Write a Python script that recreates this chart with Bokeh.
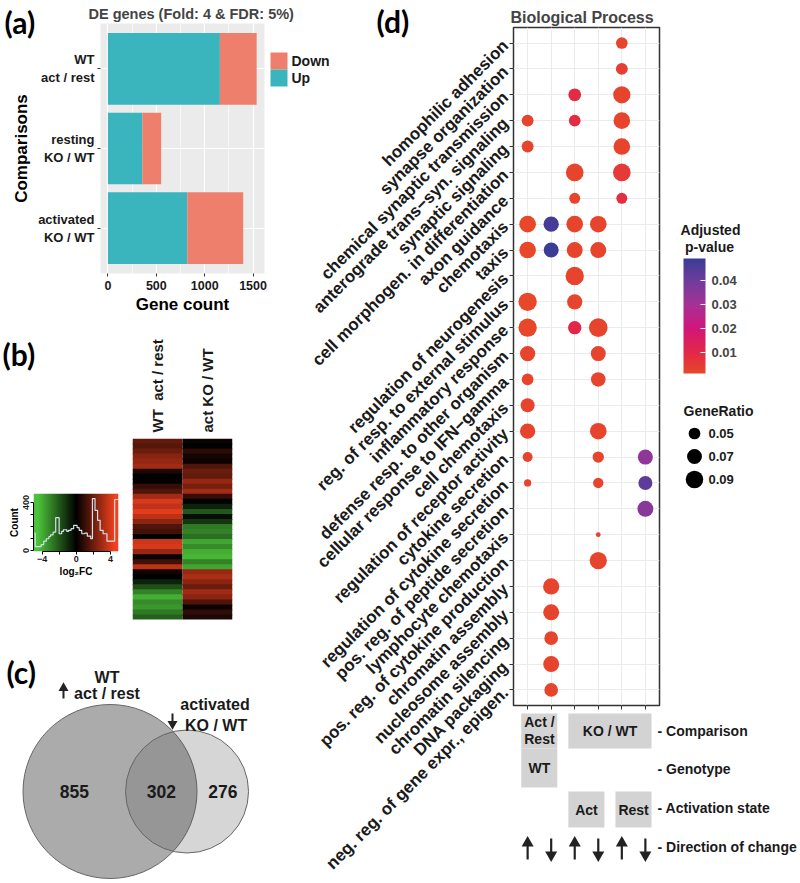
import numpy as np
from math import pi
from bokeh.plotting import figure
from bokeh.models import (ColumnDataSource, FactorRange, Range1d, FixedTicker,
                          LinearColorMapper, ColorBar)
from bokeh.core.properties import value
from bokeh.embed import file_html
from bokeh.resources import INLINE

# ============================ DATA ============================
# (a) DE genes (Fold: 4 & FDR: 5%)
comparisons = ["WT\nact / rest", "resting\nKO / WT", "activated\nKO / WT"]
up_counts = [1157, 355, 820]
down_counts = [380, 195, 578]
gene_count_ticks = [0, 500, 1000, 1500]
gene_count_minor = [250, 750, 1250]
direction_labels = ["Down", "Up"]

# (b) heatmap of log2FC (rows top -> bottom) and colour-key histogram
heat_columns = ["WT\u00a0 act / rest", "act KO / WT"]
heat_wt_act_rest = [1.8, 1.6, 2.0, 2.5, 2.8, 3.0, 0.5, 0.0, 0.1, 1.0, 1.5, 3.0,
                    4.0, 3.6, 4.2, 3.5, 2.6, 1.5, 1.2, 0.0, 3.8, 4.0, 2.8, 0.2,
                    1.2, 3.5, 0.3, 0.0, -0.8, -1.8, -3.0, -4.0, -3.2, -3.5, -2.8, -2.2]
heat_act_ko_wt = [0.2, 0.0, 0.8, 0.4, 0.2, 1.5, 2.0, 1.8, 2.8, 2.2, 3.0, 1.0,
                  0.0, -0.8, -2.0, -0.3, -1.2, -2.8, -3.0, -2.5, -3.8, -3.2, -4.0, -4.2,
                  -3.0, -3.8, 2.8, 3.2, 2.6, 2.0, 3.0, 2.6, 1.5, 0.2, 0.9, 0.5]
key_log2fc = [-4.9, -4.8, -4.1, -3.8, -3.5, -3.2, -3.0, -2.7, -2.4, -2.0, -1.7, -1.5,
              -1.1, -0.9, -0.6, -0.3, 0.1, 0.35, 0.65, 1.0, 1.3, 1.7, 1.9, 2.2, 2.5,
              2.8, 3.15, 3.6, 4.5, 4.9]
key_count = [145, 33, 50, 78, 98, 117, 131, 154, 274, 140, 159, 173, 159, 168, 182,
             210, 190, 168, 140, 145, 120, 98, 433, 335, 252, 168, 140, 78, 425, 425]
key_ticks = [-4, -2, 0, 2, 4]
key_count_ticks = [0, 100, 200, 300, 400]

# (c) Venn: up in WT act/rest vs down in activated KO/WT
venn_wt_only = 855
venn_shared = 302
venn_ko_only = 276

# (d) GO Biological Process dot plot
bp_terms = ["homophilic adhesion", "synapse organization", "chemical synaptic transmission",
            "anterograde trans\u2212syn. signaling", "synaptic signaling",
            "cell morphogen. in differentiation", "axon guidance", "chemotaxis", "taxis",
            "regulation of neurogenesis", "reg. of resp. to external stimulus",
            "inflammatory response", "defense resp. to other organism",
            "cellular response to IFN\u2212gamma", "cell chemotaxis",
            "regulation of receptor activity", "cytokine secretion",
            "regulation of cytokine secretion", "pos. reg. of peptide secretion",
            "lymphocyte chemotaxis", "pos. reg. of cytokine production", "chromatin assembly",
            "nucleosome assembly", "chromatin silencing", "DNA packaging",
            "neg. reg. of gene expr., epigen."]
bp_columns = ["WT act/rest up", "WT act/rest down", "act KO/WT up", "act KO/WT down",
              "rest KO/WT up", "rest KO/WT down"]
dot_term = [0, 1, 2, 2, 3, 3, 3, 4, 4, 5, 5, 6, 6, 7, 7, 7, 7, 8, 8, 8, 8, 9, 10, 10,
            11, 11, 11, 12, 12, 13, 13, 14, 15, 15, 16, 16, 16, 17, 17, 17, 18, 19, 20,
            21, 22, 23, 24, 25]
dot_col = [4, 4, 2, 4, 0, 2, 4, 0, 4, 2, 4, 2, 4, 0, 1, 2, 3, 0, 1, 2, 3, 2, 0, 2,
           0, 2, 3, 0, 3, 0, 3, 0, 0, 3, 0, 3, 5, 0, 3, 5, 5, 3, 3,
           1, 1, 1, 1, 1]
dot_ratio = [0.050, 0.051, 0.056, 0.088, 0.051, 0.050, 0.083, 0.051, 0.083, 0.091, 0.091,
             0.046, 0.046, 0.083, 0.073, 0.083, 0.083, 0.083, 0.071, 0.078, 0.078, 0.097,
             0.097, 0.073, 0.097, 0.060, 0.100, 0.073, 0.071, 0.050, 0.068, 0.064, 0.073,
             0.083, 0.041, 0.048, 0.071, 0.030, 0.043, 0.064, 0.078, 0.023, 0.088,
             0.080, 0.078, 0.062, 0.078, 0.062]
dot_padj = [0.002, 0.004, 0.009, 0.002, 0.002, 0.009, 0.002, 0.002, 0.002, 0.002, 0.005,
            0.002, 0.008, 0.0012, 0.047, 0.002, 0.002, 0.0012, 0.049, 0.002, 0.002, 0.002,
            0.0012, 0.002, 0.0012, 0.010, 0.002, 0.002, 0.002, 0.002, 0.002, 0.002, 0.002,
            0.002, 0.002, 0.002, 0.034, 0.002, 0.002, 0.043, 0.035, 0.003, 0.002,
            0.002, 0.002, 0.002, 0.002, 0.002]
gene_ratio_legend = [0.05, 0.07, 0.09]
padj_ticks = [0.01, 0.02, 0.03, 0.04]

# schematic under (d)
comparison_groups = [("Act /\nRest", 0, 1), ("KO / WT", 2, 5)]
genotype_groups = [("WT", 0, 1)]
activation_groups = [("Act", 2, 3), ("Rest", 4, 5)]
direction_of_change = ["up", "down", "up", "down", "up", "down"]
schem_row_labels = ["- Comparison", "- Genotype", "- Activation state", "- Direction of change"]

# ============================ STYLE ============================
W, H = 800, 882          # every layer covers the whole window and is stacked at (0, 0)
FONT = "Liberation Sans"
TAG_FONT = "Lato"
TEAL = "#3AB5BE"
SALMON = "#EE7F6D"
INK = "#1A1A1A"


def hex_rgb(h):
    return tuple(int(h[i:i + 2], 16) for i in (1, 3, 5))


def ramp(stops, n=256):
    pos = [s[0] for s in stops]
    cols = [hex_rgb(s[1]) for s in stops]
    out = []
    for t in np.linspace(0, 1, n):
        rgb = [int(round(np.interp(t, pos, [c[k] for c in cols]))) for k in range(3)]
        out.append("#%02x%02x%02x" % tuple(rgb))
    return out


heat_mapper = LinearColorMapper(palette=ramp([(0, "#4CC23A"), (0.5, "#000000"), (1, "#F0401E")]),
                                low=-4.5, high=4.5)
p_mapper = LinearColorMapper(
    palette=ramp([(0.0, "#E8472A"), (0.184, "#E22848"), (0.393, "#D2167A"),
                  (0.602, "#A53296"), (0.812, "#6E3C9B"), (1.0, "#3A3C96")]),
    low=min(dot_padj), high=max(dot_padj))


def ratio_px(r):
    return np.sqrt(np.maximum(4225.0 * np.asarray(r, dtype=float) - 74.0, 4.0))


def layer(frame=None, **kw):
    if frame is not None:
        l, r, t, b = frame
        kw.update(min_border_left=l, min_border_right=W - r, min_border_top=t, min_border_bottom=H - b)
    f = figure(width=W, height=H, output_backend="svg", toolbar_location=None,
               styles={"position": "absolute", "left": "0px", "top": "0px"}, **kw)
    f.border_fill_color = None
    f.outline_line_color = None
    return f


def style_axis(ax, size, tick_out=3, standoff=3, label_size="17px", line=None):
    ax.axis_line_color = line
    ax.major_tick_line_color = "#333333" if line is None else line
    ax.major_tick_out = tick_out
    ax.major_tick_in = 0
    ax.minor_tick_line_color = None
    ax.major_label_text_font = FONT
    ax.major_label_text_font_style = "bold"
    ax.major_label_text_font_size = size
    ax.major_label_text_color = INK
    ax.major_label_standoff = standoff
    ax.axis_label_text_font = FONT
    ax.axis_label_text_font_style = "bold"
    ax.axis_label_text_font_size = label_size
    ax.axis_label_text_color = "black"


def btext(fig, x, y, text, size, align="center", baseline="middle", color=INK, font=FONT):
    fig.text(x=x, y=y, text=text, text_font=value(font), text_font_style="bold",
             text_font_size=size, text_align=align, text_baseline=baseline, text_color=color)


def arrows(fig, xs, dirs, top, bottom, head=12, width=2.2):
    for x, d in zip(xs, dirs):
        if d == "up":
            fig.segment(x0=[x], y0=[top + 7], x1=[x], y1=[bottom], line_width=width, line_color="#222222")
            fig.scatter(x=[x], y=[top + 4.5], marker="triangle", size=head, fill_color="#222222", line_color=None)
        else:
            fig.segment(x0=[x], y0=[top], x1=[x], y1=[bottom - 7], line_width=width, line_color="#222222")
            fig.scatter(x=[x], y=[bottom - 4.5], marker="inverted_triangle", size=head, fill_color="#222222", line_color=None)


# ============================ (a) bar chart ============================
pa = layer(frame=(100, 264, 23, 273), x_range=Range1d(-77, 1618),
           y_range=FactorRange(*reversed(comparisons), range_padding=0.047),
           background_fill_color="#EBEBEB")
a_src = ColumnDataSource(dict(cmp=comparisons, up=up_counts, down=down_counts))
a_rs = pa.hbar_stack(["up", "down"], y="cmp", height=0.9, fill_color=[TEAL, SALMON],
                     line_color=None, source=a_src)
pa.title.text = "DE genes (Fold: 4 & FDR: 5%)"
pa.title.text_font = FONT
pa.title.text_font_size = "14.5px"
pa.title.text_font_style = "bold"
pa.title.align = "left"
pa.title.offset = -12
pa.title.standoff = 3
pa.xaxis.ticker = FixedTicker(ticks=gene_count_ticks, minor_ticks=gene_count_minor)
pa.xaxis.axis_label = "Gene count"
pa.yaxis.axis_label = "Comparisons"
style_axis(pa.xaxis[0], "12.5px")
style_axis(pa.yaxis[0], "13px")
pa.xaxis.axis_label_standoff = 2
pa.yaxis.axis_label_standoff = 4
pa.xgrid.grid_line_color = "white"
pa.xgrid.grid_line_width = 1.2
pa.xgrid.minor_grid_line_color = "white"
pa.xgrid.minor_grid_line_width = 0.6
pa.ygrid.grid_line_color = "white"
pa.ygrid.grid_line_width = 1.2

# ============================ (b) colour key ============================
ph = layer(frame=(33, 118, 493, 551), x_range=Range1d(-5.0, 4.95), y_range=Range1d(-8, 475))
ph.background_fill_color = None
key_grad = np.linspace(-5.0, 4.95, 240)[None, :]
ph.image(image=[key_grad], x=-5.0, y=-8, dw=9.95, dh=483, color_mapper=heat_mapper)
ph.step(x=key_log2fc, y=key_count, mode="after", line_color="#D6E2EA", line_width=1.2)
ph.grid.visible = False
ph.xaxis.ticker = FixedTicker(ticks=key_ticks)
ph.xaxis.major_label_overrides = {-4: "\u22124", -2: "", 0: "0", 2: "", 4: "4"}
ph.xaxis.bounds = (-4, 4)
ph.xaxis.axis_label = "log\u2082FC"
ph.yaxis.ticker = FixedTicker(ticks=key_count_ticks)
ph.yaxis.major_label_overrides = {0: "0", 100: "", 200: "", 300: "", 400: "400"}
ph.yaxis.bounds = (0, 400)
ph.yaxis.major_label_orientation = "vertical"
ph.yaxis.axis_label = "Count"
for ax in (ph.xaxis[0], ph.yaxis[0]):
    style_axis(ax, "9px", tick_out=3, standoff=1, label_size="10px", line="black")
    ax.axis_label_standoff = 1

# ============================ (b) heatmap ============================
n_heat = len(heat_wt_act_rest)
pb = layer(frame=(132, 232, 438, 619), x_range=FactorRange(*heat_columns), y_range=Range1d(n_heat, 0),
           x_axis_location="above", y_axis_type=None)
pb.background_fill_color = None
heat_src = ColumnDataSource(dict(
    col=[heat_columns[0]] * n_heat + [heat_columns[1]] * n_heat,
    row=[i + 0.5 for i in range(n_heat)] * 2,
    val=heat_wt_act_rest + heat_act_ko_wt))
pb.rect(x="col", y="row", width=1, height=1, source=heat_src, dilate=True,
        fill_color={"field": "val", "transform": heat_mapper}, line_color=None)
pb.grid.visible = False
pb.xaxis.major_label_orientation = "vertical"
style_axis(pb.xaxis[0], "15px", tick_out=0, standoff=6)
pb.xaxis.major_tick_line_color = None

# ============================ (d) dot plot ============================
X_LO, X_HI = -0.6, len(bp_columns) - 0.4
FR_L, FR_R, FR_T, FR_B = 513, 659, 27, 705
pd = layer(frame=(FR_L, FR_R, FR_T, FR_B), x_range=Range1d(X_LO, X_HI),
           y_range=Range1d(len(bp_terms) - 0.4, -0.6), background_fill_color="white")
pd.outline_line_color = "#333333"
pd.outline_line_width = 1.5
d_src = ColumnDataSource(dict(col=dot_col, row=dot_term, ratio=dot_ratio, padj=dot_padj,
                              px=list(ratio_px(dot_ratio))))
pd.scatter(x="col", y="row", size="px", source=d_src, line_color=None,
           fill_color={"field": "padj", "transform": p_mapper})
pd.title.text = "Biological Process"
pd.title.text_font = FONT
pd.title.text_font_size = "16px"
pd.title.text_font_style = "bold"
pd.title.align = "left"
pd.title.offset = -3
pd.title.standoff = 4
pd.yaxis.ticker = FixedTicker(ticks=list(range(len(bp_terms))))
pd.yaxis.major_label_overrides = {i: t for i, t in enumerate(bp_terms)}
pd.yaxis.major_label_orientation = pi / 4
pd.xaxis.ticker = FixedTicker(ticks=list(range(len(bp_columns))))
pd.xaxis.major_label_overrides = {i: "" for i in range(len(bp_columns))}
style_axis(pd.yaxis[0], "17px", tick_out=4, standoff=4)
style_axis(pd.xaxis[0], "10px", tick_out=4, standoff=0)
pd.grid.grid_line_color = "#EBEBEB"
pd.grid.grid_line_width = 1

# ============================ overlay: tags, venn, legends, schematic ============================
po = layer(x_range=Range1d(0, W), y_range=Range1d(H, 0), x_axis_type=None, y_axis_type=None,
           min_border=0)
po.background_fill_color = None
po.grid.visible = False

# panel tags
btext(po, [4, 2, 6, 376], [3, 335, 653, 2], ["(a)", "(b)", "(c)", "(d)"], "30px",
      align="left", baseline="top", color="black", font=TAG_FONT)

# legend of (a)
po.rect(x=[278.5, 278.5], y=[60.5, 77.5], width=17, height=17, fill_color=[SALMON, TEAL], line_color=None)
btext(po, [291, 291], [60.5, 77.5], direction_labels, "14px", align="left")

# (c) Venn
r_wt = np.sqrt((venn_wt_only + venn_shared) / np.pi)
r_ko = np.sqrt((venn_ko_only + venn_shared) / np.pi)


def lens(d, r1, r2):
    a1 = r1 ** 2 * np.arccos((d * d + r1 * r1 - r2 * r2) / (2 * d * r1))
    a2 = r2 ** 2 * np.arccos((d * d + r2 * r2 - r1 * r1) / (2 * d * r2))
    a3 = 0.5 * np.sqrt((-d + r1 + r2) * (d + r1 - r2) * (d - r1 + r2) * (d + r1 + r2))
    return a1 + a2 - a3


lo, hi = abs(r_wt - r_ko) + 1e-9, r_wt + r_ko - 1e-9
for _ in range(80):
    mid = 0.5 * (lo + hi)
    if lens(mid, r_wt, r_ko) > venn_shared:
        lo = mid
    else:
        hi = mid
d_c = 0.5 * (lo + hi)
S = 87.0 / r_wt          # px per unit
CX, CY = 109.5, 791.0    # anchor of the larger circle
po.circle(x=[CX], y=[CY], radius=r_wt * S, fill_color="#ABABAB", fill_alpha=1.0,
          line_color="#666666", line_width=1)
po.circle(x=[CX + d_c * S], y=[CY], radius=r_ko * S, fill_color="#555555", fill_alpha=0.24,
          line_color="#666666", line_width=1)
mids = [(-r_wt + d_c - r_ko) / 2, (d_c - r_ko + r_wt) / 2, (r_wt + d_c + r_ko) / 2]
btext(po, [CX + m * S for m in mids], [CY] * 3,
      [str(venn_wt_only), str(venn_shared), str(venn_ko_only)], "17.5px")
btext(po, [CX - 3, CX - 3], [677, 693], ["WT", "act / rest"], "16px")
btext(po, [CX + d_c * S + 28, CX + d_c * S + 29], [704, 725], ["activated", "KO / WT"], "16px")
arrows(po, [63], ["up"], 683, 698, head=10, width=2)
arrows(po, [172], ["down"], 713, 728, head=10, width=2)

# (d) colour bar and size legend
btext(po, [710, 709], [229, 246], ["Adjusted", "p-value"], "14px")
cb = ColorBar(color_mapper=p_mapper, location=(683, H - 373), width=22, height=115, padding=0, margin=0,
              ticker=FixedTicker(ticks=padj_ticks), major_label_text_font=FONT,
              major_label_text_font_style="bold", major_label_text_font_size="13px",
              label_standoff=6, major_tick_line_color="white", major_tick_in=5, major_tick_out=0,
              minor_tick_line_color=None, bar_line_color=None, border_line_color=None,
              background_fill_color=None)
po.add_layout(cb)
btext(po, [683], [410], ["GeneRatio"], "14px", align="left")
po.scatter(x=[694] * len(gene_ratio_legend), y=[433, 456, 479], size=list(ratio_px(gene_ratio_legend)),
           fill_color="black", line_color=None)
btext(po, [708] * 3, [433, 456, 479], ["%.2f" % g for g in gene_ratio_legend], "13px", align="left")

# (d) schematic table
COL_PX = (FR_R - FR_L) / (X_HI - X_LO)


def col_x(c):
    return FR_L + (c - X_LO) * COL_PX


bands = [(comparison_groups, 713, 748), (genotype_groups, 748, 787), (activation_groups, 791, 827)]
for groups, top, bot in bands:
    po.quad(left=[col_x(g[1] - 0.27) for g in groups], right=[col_x(g[2] + 0.26) for g in groups],
            top=[top] * len(groups), bottom=[bot] * len(groups),
            fill_color="#D3D3D3", line_color=None)
for groups, top, bot in bands:
    for label, c0, c1 in groups:
        lines = label.split("\n")
        xc = col_x(0.5 * (c0 + c1))
        if len(lines) == 1:
            btext(po, [xc], [0.5 * (top + bot)], [label], "14px")
        else:
            btext(po, [xc] * 2, [721, 738.5], lines, "14px")
arrows(po, [col_x(i) for i in range(len(direction_of_change))], direction_of_change, 838, 859, head=12, width=2.2)
btext(po, [657] * 4, [730, 768, 807, 846], schem_row_labels, "14px", align="left")

open("out.html", "w").write(file_html([pa, ph, pb, pd, po], INLINE))
